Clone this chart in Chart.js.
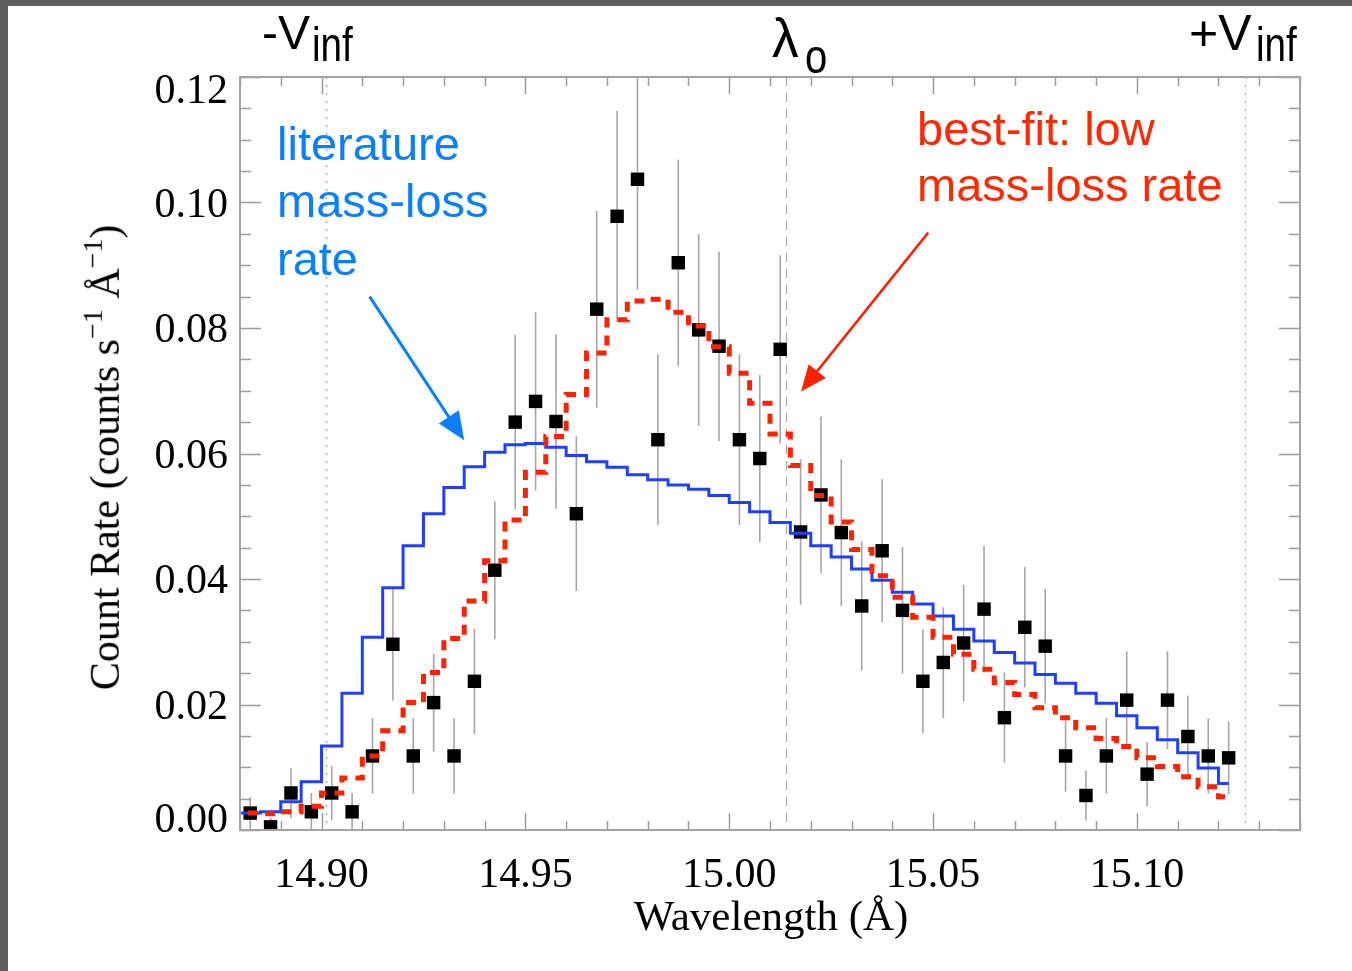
<!DOCTYPE html>
<html><head><meta charset="utf-8">
<script src="https://cdn.jsdelivr.net/npm/chart.js@4.4.0/dist/chart.umd.min.js"></script>
<style>
html,body{margin:0;padding:0;background:#fff;}
#wrap{position:relative;width:1352px;height:971px;overflow:hidden;background:#fff;}
.t{position:absolute;white-space:nowrap;line-height:1;}
</style></head><body>
<div id="wrap">
<canvas id="c" width="1352" height="971" style="position:absolute;left:0;top:0;width:1352px;height:971px"></canvas>
<div style="position:absolute;left:0;top:0;width:1352px;height:6px;background:#5f5f5f"></div>
<div style="position:absolute;left:0;top:0;width:8px;height:971px;background:#5f5f5f"></div>
</div>
<script>
// ---- data ----
const wavelength = [14.8825,14.8875,14.8925,14.8975,14.9025,14.9075,14.9125,14.9175,14.9225,14.9275,
  14.9325,14.9375,14.9425,14.9475,14.9525,14.9575,14.9625,14.9675,14.9725,14.9775,
  14.9825,14.9875,14.9925,14.9975,15.0025,15.0075,15.0125,15.0175,15.0225,15.0275,
  15.0325,15.0375,15.0425,15.0475,15.0525,15.0575,15.0625,15.0675,15.0725,15.0775,
  15.0825,15.0875,15.0925,15.0975,15.1025,15.1075,15.1125,15.1175,15.1225];
const countRate = [0.0027,0.0005,0.0059,0.0029,0.0059,0.0029,0.0118,0.0296,0.0118,0.0203,
  0.0118,0.0237,0.0414,0.0650,0.0683,0.0651,0.0504,0.0830,0.0978,0.1037,
  0.0622,0.0904,0.0797,0.0771,0.0622,0.0592,0.0766,0.0475,0.0534,0.0474,
  0.0357,0.0445,0.0350,0.0237,0.0267,0.0298,0.0352,0.0179,0.0323,0.0293,
  0.0118,0.0055,0.0118,0.0207,0.0089,0.0207,0.0149,0.0118,0.0115];
const countErr = [0.0025,0.0015,0.0040,0.0030,0.0043,0.0030,0.0060,0.0090,0.0060,0.0078,
  0.0060,0.0084,0.0110,0.0139,0.0142,0.0139,0.0123,0.0157,0.0168,0.0176,
  0.0136,0.0164,0.0153,0.0151,0.0136,0.0133,0.0150,0.0116,0.0125,0.0117,
  0.0103,0.0114,0.0101,0.0083,0.0088,0.0093,0.0101,0.0072,0.0096,0.0091,
  0.0057,0.0040,0.0060,0.0078,0.0051,0.0078,0.0065,0.0060,0.0058];
const modelWavelength = [14.8775,14.8825,14.8875,14.8925,14.8975,14.9025,14.9075,14.9125,14.9175,14.9225,14.9275,
  14.9325,14.9375,14.9425,14.9475,14.9525,14.9575,14.9625,14.9675,14.9725,14.9775,
  14.9825,14.9875,14.9925,14.9975,15.0025,15.0075,15.0125,15.0175,15.0225,15.0275,
  15.0325,15.0375,15.0425,15.0475,15.0525,15.0575,15.0625,15.0675,15.0725,15.0775,
  15.0825,15.0875,15.0925,15.0975,15.1025,15.1075,15.1125,15.1175,15.1225];
const literatureModel = [0.0027,0.0027,0.0029,0.0045,0.0077,0.0134,0.0218,0.0307,0.0386,0.0453,0.0504,
  0.0546,0.0579,0.0602,0.0614,0.0616,0.0610,0.0597,0.0587,0.0578,0.0566,
  0.0558,0.0550,0.0543,0.0533,0.0522,0.0507,0.0490,0.0473,0.0453,0.0435,
  0.0416,0.0398,0.0379,0.0360,0.0341,0.0320,0.0301,0.0283,0.0266,0.0248,
  0.0234,0.0218,0.0202,0.0182,0.0163,0.0144,0.0123,0.0099,0.0074];
const bestFitModel = [0.0027,0.0027,0.0026,0.0029,0.0038,0.0059,0.0083,0.0118,0.0158,0.0203,0.0251,
  0.0305,0.0365,0.0429,0.0494,0.0570,0.0627,0.0694,0.0760,0.0813,0.0843,
  0.0846,0.0825,0.0803,0.0770,0.0728,0.0680,0.0631,0.0581,0.0533,0.0491,
  0.0447,0.0405,0.0371,0.0339,0.0307,0.0280,0.0256,0.0235,0.0216,0.0195,
  0.0179,0.0163,0.0146,0.0133,0.0115,0.0101,0.0085,0.0069,0.0053];
const xTickValues = [14.90,14.95,15.00,15.05,15.10];
const xTickLabels = ['14.90','14.95','15.00','15.05','15.10'];
const yTickValues = [0,0.02,0.04,0.06,0.08,0.10,0.12];
const yTickLabels = ['0.00','0.02','0.04','0.06','0.08','0.10','0.12'];
const markerWavelengths = [14.9012,15.014,15.1266];
const markerStyles = ['dotted','dashed','dotted'];
const arrowLiterature = [[14.9118,0.0850],[14.9350,0.0621]];
const arrowBestFit = [[15.0488,0.0952],[15.0176,0.0699]];

// ---- drawing helpers ----
function drawArrow(ctx,x0,y0,x1,y1,color,lw,hl,hw){
  const dx=x1-x0, dy=y1-y0, L=Math.hypot(dx,dy), ux=dx/L, uy=dy/L;
  const bx=x1-ux*hl, by=y1-uy*hl;
  ctx.save();
  ctx.strokeStyle=color; ctx.fillStyle=color; ctx.lineWidth=lw; ctx.lineCap='butt';
  ctx.beginPath(); ctx.moveTo(x0,y0); ctx.lineTo(bx+ux*2,by+uy*2); ctx.stroke();
  ctx.beginPath(); ctx.moveTo(x1,y1); ctx.lineTo(bx-uy*hw,by+ux*hw); ctx.lineTo(bx+uy*hw,by-ux*hw); ctx.closePath(); ctx.fill();
  ctx.restore();
}

const framePlugin = {
  id:'frame',
  beforeDatasetsDraw(chart){
    const {ctx, chartArea:a, scales:{x,y}} = chart;
    ctx.save();
    ctx.beginPath(); ctx.rect(a.left,a.top,a.right-a.left,a.bottom-a.top); ctx.clip();
    markerWavelengths.forEach((w,i)=>{
      const px=Math.round(x.getPixelForValue(w))+0.5;
      ctx.strokeStyle='#a8a8a8'; ctx.lineWidth=1.3;
      ctx.setLineDash(markerStyles[i]==='dotted'?[2,6]:[9,7]);
      ctx.beginPath(); ctx.moveTo(px,a.top); ctx.lineTo(px,a.bottom); ctx.stroke();
    });
    ctx.setLineDash([]);
    ctx.strokeStyle='#a6a6a6'; ctx.lineWidth=1.6;
    ctx.beginPath();
    wavelength.forEach((w,i)=>{
      const px=x.getPixelForValue(w);
      ctx.moveTo(px,y.getPixelForValue(countRate[i]+countErr[i]));
      ctx.lineTo(px,y.getPixelForValue(countRate[i]-countErr[i]));
    });
    ctx.stroke();
    ctx.restore();
  },
  afterDatasetsDraw(chart){
    const {ctx, chartArea:a, scales:{x,y}} = chart;
    ctx.save();
    // ticks
    ctx.strokeStyle='#9c9c9c'; ctx.lineWidth=1.5;
    ctx.beginPath();
    for(let k=0;k<=24;k++){
      const v=k*0.005; const py=Math.round(y.getPixelForValue(v))+0.5;
      const len=(k%4===0)?21:11;
      ctx.moveTo(a.left,py); ctx.lineTo(a.left+len,py);
      ctx.moveTo(a.right,py); ctx.lineTo(a.right-len,py);
    }
    for(let k=0;k<=26;k++){
      const v=14.88+k*0.01; const px=Math.round(x.getPixelForValue(v))+0.5;
      const len=(Math.abs((v*100)%5)<0.01||Math.abs((v*100)%5-5)<0.01)?17:9;
      ctx.moveTo(px,a.bottom); ctx.lineTo(px,a.bottom-len);
      ctx.moveTo(px,a.top); ctx.lineTo(px,a.top+len);
    }
    ctx.stroke();
    // frame
    ctx.strokeStyle='#a4a4a4'; ctx.lineWidth=2;
    ctx.strokeRect(a.left,a.top,a.right-a.left,a.bottom-a.top);
    // tick labels
    ctx.fillStyle='#000';
    ctx.font='42px "Liberation Serif", "Times New Roman", serif';
    ctx.textAlign='center'; ctx.textBaseline='alphabetic';
    xTickValues.forEach((v,i)=>{ ctx.fillText(xTickLabels[i], x.getPixelForValue(v), 887); });
    ctx.textAlign='right';
    yTickValues.forEach((v,i)=>{
      let py=y.getPixelForValue(v);
      if(i===0) py-=12; if(i===yTickValues.length-1) py+=12;
      ctx.fillText(yTickLabels[i], 228, py+14);
    });
    // arrows
    const A=arrowLiterature, B=arrowBestFit;
    drawArrow(ctx,x.getPixelForValue(A[0][0]),y.getPixelForValue(A[0][1]),x.getPixelForValue(A[1][0]),y.getPixelForValue(A[1][1]),'#0a80ff',3,28,12);
    drawArrow(ctx,x.getPixelForValue(B[0][0]),y.getPixelForValue(B[0][1]),x.getPixelForValue(B[1][0]),y.getPixelForValue(B[1][1]),'#ff2200',2.5,26,11);
    ctx.restore();
  }
};

new Chart(document.getElementById('c'), {
  type:'scatter',
  data:{datasets:[
    {label:'best-fit: low mass-loss rate', type:'line', showLine:true,
     data:modelWavelength.map((w,i)=>({x:w,y:bestFitModel[i]})),
     stepped:'middle', borderColor:'#ff2200', borderWidth:5, borderDash:[10,8], borderCapStyle:'butt',
     pointRadius:0, fill:false, order:1, clip:0},
    {label:'literature mass-loss rate', type:'line', showLine:true,
     data:modelWavelength.map((w,i)=>({x:w,y:literatureModel[i]})),
     stepped:'middle', borderColor:'#2040ff', borderWidth:3,
     pointRadius:0, fill:false, order:2, clip:0},
    {label:'data', data:wavelength.map((w,i)=>({x:w,y:countRate[i]})),
     pointStyle:'rect', pointRadius:9.5, backgroundColor:'#000', borderWidth:0, order:3, clip:0}
  ]},
  options:{
    responsive:false, animation:false, devicePixelRatio:1, events:[],
    layout:{padding:{left:240,top:77,right:52,bottom:141}},
    scales:{
      x:{type:'linear',min:14.88,max:15.14,display:false},
      y:{type:'linear',min:0,max:0.12,display:false}
    },
    plugins:{legend:{display:false},tooltip:{enabled:false}}
  },
  plugins:[framePlugin]
});

// ---- text annotations ----
const wrap=document.getElementById('wrap');
function addText(html,left,baseline,size,family,color,opts){
  opts=opts||{};
  const d=document.createElement('div'); d.className='t'; d.innerHTML=html;
  const k=family==='serif'?0.8375:0.8465;
  d.style.fontFamily=family==='serif'?'"Liberation Serif","Times New Roman",serif':'"Liberation Sans",Arial,Helvetica,sans-serif';
  d.style.fontSize=size+'px'; d.style.color=color;
  d.style.left=left+'px'; d.style.top=(baseline-k*size)+'px';
  let tr='';
  if(opts.center) tr+='translateX(-50%) ';
  if(opts.sy||opts.sx) tr+='scale('+(opts.sx||1)+','+(opts.sy||1)+') ';
  if(tr){ d.style.transform=tr; d.style.transformOrigin=(opts.center?'50%':'0px')+' '+(k*size)+'px'; }
  wrap.appendChild(d); return d;
}
addText('-V',262,50,48,'sans','#000');
addText('inf',312,62,42,'sans','#000',{sy:1.15,sx:0.92});
addText('λ',772,57,56,'sans','#000',{sx:0.95});
addText('o',805,73,40,'sans','#000',{sy:1.2});
addText('+V',1189,50,50,'sans','#000');
addText('inf',1256,62,42,'sans','#000',{sy:1.15,sx:0.92});

addText('literature',277,160,47,'sans','#0a80ff');
addText('mass-loss',277,217,47,'sans','#0a80ff');
addText('rate',277,275,47,'sans','#0a80ff');
addText('best-fit: low',917,145,47,'sans','#ff2a00');
addText('mass-loss rate',917,201,47,'sans','#ff2a00');

addText('Wavelength (Å)',771,930,43,'serif','#000',{center:true});

// rotated y title
(function(){
  const size=42, k=0.8375;
  const d=document.createElement('div'); d.className='t';
  d.innerHTML='Count Rate (counts s<span style="font-size:28px;position:relative;top:-17px">−1</span> Å<span style="font-size:28px;position:relative;top:-17px">−1</span>)';
  d.style.fontFamily='"Liberation Serif","Times New Roman",serif';
  d.style.fontSize=size+'px'; d.style.color='#000';
  d.style.left='119px'; d.style.top=(690-k*size)+'px';
  d.style.transformOrigin='0px '+(k*size)+'px';
  d.style.transform='rotate(-90deg)';
  wrap.appendChild(d);
})();
</script>
</body></html>
